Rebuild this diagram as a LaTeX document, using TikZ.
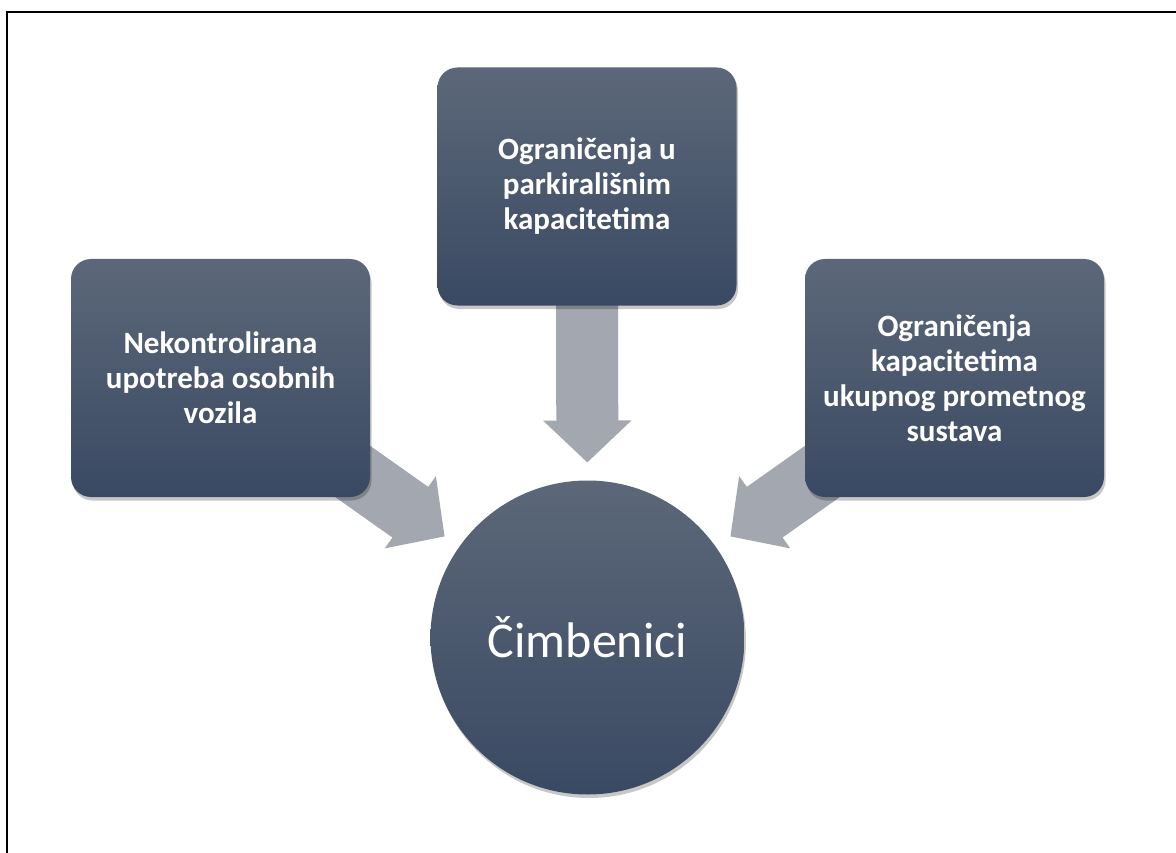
\documentclass[tikz,border=0pt]{standalone}
\usepackage{fontspec}
\setmainfont{Carlito}
\usetikzlibrary{arrows.meta,shadows,calc}
\definecolor{boxtop}{RGB}{92,104,121}
\definecolor{boxbot}{RGB}{58,73,99}
\definecolor{arrowgray}{RGB}{163,167,175}
\tikzset{
  factorbox/.style={draw=none, rounded corners=20pt, minimum width=299pt, minimum height=238pt,
    top color=boxtop, bottom color=boxbot, text=white, align=center,
    font=\bfseries\fontsize{31}{35}\selectfont,
    drop shadow={shadow xshift=1.5pt, shadow yshift=-3.5pt, opacity=0.22, fill=black}},
  hubcircle/.style={circle, draw=none, minimum size=314pt, inner sep=0pt,
    top color=boxtop, bottom color=boxbot, text=white,
    font=\fontsize{50}{56}\selectfont,
    drop shadow={shadow xshift=1.5pt, shadow yshift=-3.5pt, opacity=0.22, fill=black}},
  bigarrow/.style={draw=arrowgray, line width=62pt,
    -{Triangle[width=86pt,length=42pt]}, arrowgray}
}
\begin{document}
\begin{tikzpicture}[x=1pt,y=-1pt]
\useasboundingbox (0,0) rectangle (1176,853);
\fill[white] (0,0) rectangle (1176,853);
\draw[line width=2.2pt] (7,853) -- (7,12) -- (1176,12);

% coordinates of nodes (centres)
\coordinate (pl) at (220.5,378);
\coordinate (pt) at (587,186.5);
\coordinate (pr) at (954.5,378);
\coordinate (pc) at (587.5,637.5);

% arrow tips
\coordinate (tipl) at ($(pc)!175pt!(pl)$);
\coordinate (tipt) at ($(pc)!175pt!(pt)$);
\coordinate (tipr) at ($(pc)!175pt!(pr)$);

% arrows (behind boxes)
\draw[bigarrow] (pl) -- (tipl);
\draw[bigarrow] (pt) -- (tipt);
\draw[bigarrow] (pr) -- (tipr);

% boxes
\node[factorbox] (lbox) at (pl) {Nekontrolirana\\upotreba osobnih\\vozila};
\node[factorbox] (tbox) at (pt) {Ograničenja u\\parkirališnim\\kapacitetima};
\node[factorbox] (rbox) at (pr) {Ograničenja\\kapacitetima\\ukupnog prometnog\\sustava};
\node[hubcircle] (hub) at (pc) {Čimbenici};
\end{tikzpicture}
\end{document}
